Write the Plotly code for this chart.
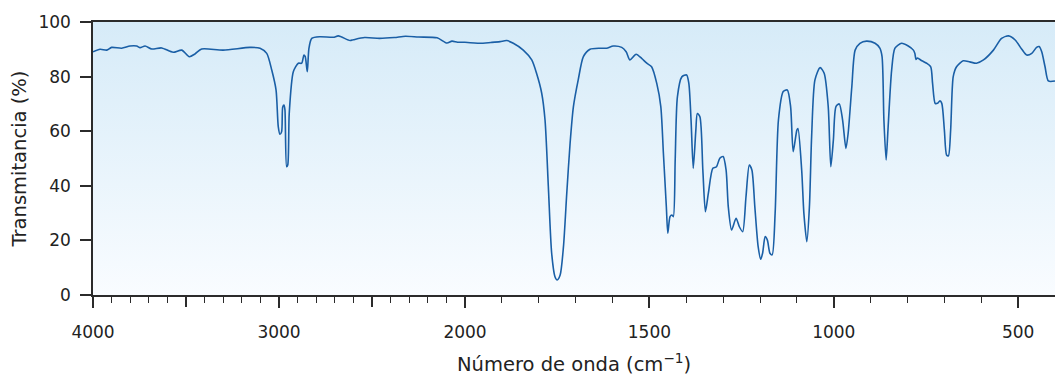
import base64
import plotly.graph_objects as go

# ---- data: IR spectrum ----
# high wavenumber region (4000 -> 2000 cm-1), compressed scale
wn_hi = [4000, 3962, 3926, 3900, 3846, 3801, 3765, 3747, 3720, 3684, 3631, 3569, 3523, 3482,
         3452, 3416, 3300, 3156, 3102, 3066, 3039, 3016, 3004, 2995, 2986, 2980, 2973, 2968,
         2959, 2953, 2945, 2923, 2896, 2878, 2866, 2859, 2848, 2839, 2824, 2780, 2708, 2681,
         2618, 2600, 2540, 2460, 2380, 2320, 2250, 2150, 2097, 2070, 2040, 2000]
t_hi = [89.1, 90.0, 89.7, 90.7, 90.4, 91.2, 91.2, 90.6, 91.2, 90.1, 90.5, 88.9, 89.7, 87.3,
        88.3, 90.1, 89.7, 90.7, 90.4, 88.5, 82.4, 75.1, 61.7, 58.9, 59.8, 68.9, 69.6, 67.8,
        47.0, 47.6, 66.5, 81.8, 84.9, 84.9, 87.9, 87.3, 81.8, 90.4, 94.0, 94.6, 94.4, 94.9,
        93.2, 93.5, 94.3, 94.0, 94.3, 94.8, 94.5, 94.2, 92.3, 93.0, 92.6, 92.6]

# low wavenumber region (2000 -> 400 cm-1), expanded scale
wn_lo = [2000, 1960, 1930, 1905, 1887, 1869, 1842, 1819, 1806, 1792, 1783, 1774, 1765, 1756,
         1750, 1742, 1733, 1724, 1715, 1706, 1693, 1679, 1661, 1634, 1616, 1598, 1575, 1563,
         1553, 1536, 1521, 1507, 1494, 1480, 1469, 1462, 1454, 1450, 1444, 1439, 1435, 1430,
         1424, 1412, 1399, 1393, 1387, 1381, 1374, 1370, 1363, 1355, 1348, 1340, 1328, 1318,
         1309, 1300, 1292, 1286, 1277, 1265, 1256, 1247, 1238, 1229, 1222, 1214, 1205, 1198,
         1193, 1186, 1180, 1173, 1167, 1159, 1150, 1137, 1126, 1117, 1110, 1100, 1097, 1087,
         1081, 1073, 1066, 1060, 1051, 1037, 1026, 1015, 1008, 1001, 994, 985, 976, 967, 961,
         951, 942, 929, 911, 888, 875, 869, 864, 858, 853, 843, 834, 816, 798, 784, 780, 777,
         773, 761, 748, 737, 732, 725, 719, 712, 707, 700, 694, 689, 683, 676, 667, 649, 631,
         613, 594, 567, 545, 526, 508, 490, 477, 463, 450, 443, 436, 427, 418, 400]
t_lo = [92.6, 92.2, 92.5, 92.8, 93.2, 92.2, 89.7, 86.1, 81.2, 73.9, 64.1, 39.7, 15.3, 6.7,
        5.5, 7.3, 17.7, 37.3, 55.6, 69.0, 78.8, 87.3, 90.0, 90.4, 90.4, 91.2, 90.7, 89.1,
        86.1, 88.2, 86.7, 84.9, 83.6, 77.5, 69.0, 51.9, 32.3, 22.6, 28.7, 29.3, 28.7, 49.5,
        72.6, 79.9, 80.6, 77.5, 64.1, 46.4, 60.4, 66.5, 65.3, 45.8, 30.5, 37.3, 46.4, 47.0,
        50.1, 50.7, 45.8, 32.3, 23.8, 28.1, 25.0, 23.2, 36.0, 47.6, 45.8, 32.3, 17.7, 13.1,
        15.3, 21.4, 20.1, 15.3, 14.7, 29.9, 64.1, 74.5, 75.1, 69.0, 52.5, 60.4, 61.0, 45.8,
        29.9, 19.5, 32.3, 58.0, 78.8, 83.3, 81.2, 69.0, 47.0, 56.8, 69.0, 70.0, 64.1, 53.7, 59.2,
        76.3, 89.7, 92.2, 93.0, 92.2, 90.4, 87.3, 64.1, 49.5, 60.4, 82.4, 90.4, 92.2, 91.2, 89.7, 88.5, 86.3,
        86.8, 85.8, 84.9, 83.6, 77.5, 70.2, 70.2, 71.1, 70.2, 60.4, 51.3, 51.0, 60.4, 80.0, 83.6, 85.8, 85.4,
        84.9, 86.1, 89.7, 94.0, 94.9, 93.4, 90.0, 87.9, 88.5, 90.7, 91.0, 89.1, 83.6, 78.4, 78.4]

hi_ticks = [4000, 3000, 2000]
hi_labels = ["4000", "3000", "2000"]
hi_half_ticks = [3500, 2500]
lo_ticks = [1500, 1000, 500]
lo_labels = ["1500", "1000", "500"]
y_ticks = [0, 20, 40, 60, 80, 100]

x_title = "Número de onda (cm<sup>−1</sup>)"
y_title = "Transmitancia (%)"

LINE = "#1a5fa6"
AX = "#2b2b2b"
TXT = "#222222"
FONT = "DejaVu Sans"
split = 0.3867

# vertical gradient background of the plotting area
svg = ('<svg xmlns="http://www.w3.org/2000/svg" width="100" height="100" viewBox="0 0 100 100" '
       'preserveAspectRatio="none"><defs><linearGradient id="g" x1="0" y1="0" x2="0" y2="1">'
       '<stop offset="0" stop-color="#d6ebf8"/><stop offset="1" stop-color="#f9fcff"/>'
       '</linearGradient></defs><rect width="100" height="100" fill="url(#g)"/></svg>')
bg_uri = "data:image/svg+xml;base64," + base64.b64encode(svg.encode()).decode()

fig = go.Figure()
fig.add_trace(go.Scatter(x=wn_hi, y=t_hi, mode="lines",
                         line=dict(color=LINE, width=1.6, shape="spline", smoothing=0.7),
                         showlegend=False, xaxis="x", yaxis="y"))
fig.add_trace(go.Scatter(x=wn_lo, y=t_lo, mode="lines",
                         line=dict(color=LINE, width=1.6, shape="spline", smoothing=0.7),
                         showlegend=False, xaxis="x2", yaxis="y"))

common_x = dict(showline=True, linecolor=AX, linewidth=1.5, mirror=True, ticks="outside",
                ticklen=11, tickwidth=1.5, tickcolor=AX, showgrid=False, zeroline=False,
                tickfont=dict(family=FONT, size=17, color=TXT), ticklabelstandoff=10,
                anchor="y", tickmode="array")

fig.update_layout(
    width=1055, height=376, autosize=False,
    margin=dict(l=93, r=0, t=22, b=81, autoexpand=False),
    paper_bgcolor="white", plot_bgcolor="rgba(0,0,0,0)",
    images=[dict(source=bg_uri, xref="paper", yref="paper", x=0, y=1, sizex=1, sizey=1,
                 xanchor="left", yanchor="top", sizing="stretch", layer="below")],
    xaxis=dict(domain=[0, split], range=[4000, 2000], tickvals=hi_ticks, ticktext=hi_labels,
               minor=dict(tickmode="array",
                          tickvals=[v for v in range(3900, 2000, -100) if v % 500 != 0],
                          ticks="outside", ticklen=6, tickwidth=1, tickcolor=AX),
               **common_x),
    xaxis3=dict(domain=[0, split], range=[4000, 2000], overlaying="x", anchor="y",
                tickmode="array", tickvals=hi_half_ticks, ticks="outside", ticklen=11,
                tickwidth=1.5, tickcolor=AX, showticklabels=False, showline=False,
                showgrid=False, zeroline=False),
    xaxis2=dict(domain=[split, 1], range=[2000, 400], tickvals=lo_ticks, ticktext=lo_labels,
                minor=dict(tickmode="array",
                           tickvals=[v for v in range(1900, 400, -100) if v % 500 != 0],
                           ticks="outside", ticklen=6, tickwidth=1, tickcolor=AX),
                **common_x),
    yaxis=dict(range=[0, 100], domain=[0, 1], anchor="x", tickmode="array", tickvals=y_ticks,
               showline=True, linecolor=AX, linewidth=1.5, ticks="outside", ticklen=11,
               tickwidth=1.5, tickcolor=AX, showgrid=False, zeroline=False,
               tickfont=dict(family=FONT, size=17, color=TXT), ticklabelstandoff=6),
    annotations=[
        dict(text=x_title, xref="paper", yref="paper", x=0.5, y=-0.249, xanchor="center",
             yanchor="middle", showarrow=False, font=dict(family=FONT, size=19.5, color=TXT)),
        dict(text=y_title, xref="paper", yref="paper", x=-0.0759, y=0.5, xanchor="center",
             yanchor="middle", textangle=-90, showarrow=False,
             font=dict(family=FONT, size=19.5, color=TXT)),
    ],
)
# invisible point so the overlay axis (3500 / 2500 ticks) is drawn
fig.add_trace(go.Scatter(x=[4000], y=[50], mode="markers", marker=dict(opacity=0),
                         hoverinfo="skip", showlegend=False, xaxis="x3", yaxis="y"))

fig.write_html("out.html", config={"responsive": False, "displayModeBar": False},
               post_script="document.body.style.margin='0';"
                           "document.body.style.overflow='hidden';")
